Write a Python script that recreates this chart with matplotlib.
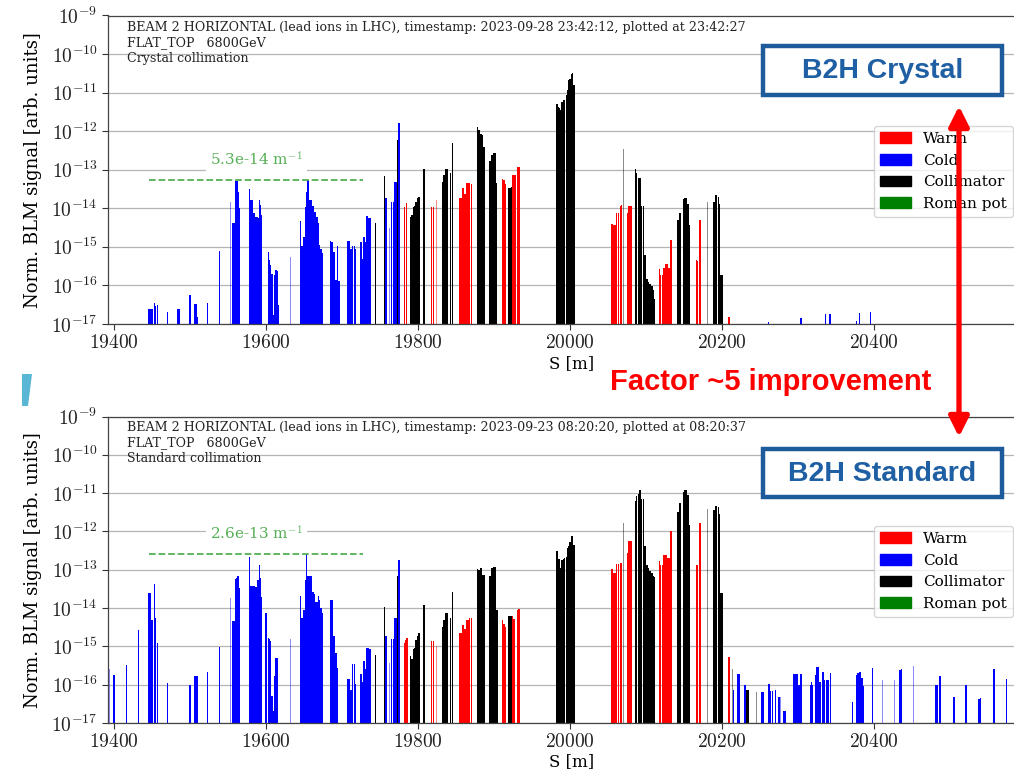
import numpy as np
import matplotlib
matplotlib.use("Agg")
import matplotlib.pyplot as plt
from matplotlib import font_manager
from matplotlib.patches import Rectangle, Polygon, FancyArrowPatch, ArrowStyle
from matplotlib.ticker import FixedLocator, NullLocator, FuncFormatter

# ---------------------------------------------------------------- data
S_TICKS = [19400, 19600, 19800, 20000, 20200, 20400]
LEGEND_LABELS = ["Warm", "Cold", "Collimator", "Roman pot"]

# Crystal collimation run (2023-09-28)
crystal_cold_s = [19446, 19448, 19450, 19453, 19454.5, 19457, 19470, 19484, 19486, 19500,
                  19506, 19507.5, 19509, 19523, 19539,
                  19556, 19558, 19560, 19561.5, 19563, 19565,
                  19578.5, 19580, 19582, 19584, 19586, 19588, 19589.5, 19591, 19592.5, 19594,
                  19603, 19604.5, 19606, 19608, 19610, 19611, 19613, 19614.5, 19615.5,
                  19645, 19646.5, 19648, 19650, 19652, 19653.5, 19655, 19656.5, 19658, 19660,
                  19662, 19663.5, 19665, 19667, 19669, 19670.5, 19672, 19674.5,
                  19685, 19687, 19688.5, 19690, 19692, 19694, 19696,
                  19708, 19710, 19712, 19714, 19716, 19717.5,
                  19724, 19725.5, 19727, 19729, 19731, 19733, 19735, 19736.5,
                  19758, 19765, 19767.5, 19769, 19771, 19775,
                  20261, 20303, 20304, 20336, 20341, 20343, 20377, 20381, 20395]
crystal_cold_sig = [2.4e-17, 2.4e-17, 2.4e-17, 3.6e-17, 2.9e-17, 3.2e-17, 2.1e-17, 2.4e-17, 2.4e-17, 5.6e-17,
                    3.4e-17, 3.4e-17, 1.55e-17, 3.6e-17, 7.8e-16,
                    4.1e-15, 4.1e-15, 5.0e-14, 5.0e-14, 2.7e-14, 1.0e-14,
                    3.1e-14, 1.6e-14, 1.6e-14, 7.4e-15, 6.0e-15, 6.0e-15, 5.5e-15, 1.6e-14, 1.2e-14, 6.6e-15,
                    7.5e-16, 4.6e-16, 3.4e-16, 2.0e-16, 1.7e-17, 1.9e-16, 2.5e-16, 2.4e-16, 3.1e-17,
                    4.6e-15, 1.05e-15, 1.05e-15, 1.8e-15, 1.1e-14, 2.7e-14, 5.3e-14, 1.5e-14, 1.6e-14, 1.6e-14,
                    1.15e-14, 8.1e-15, 8.1e-15, 6.0e-15, 4.1e-15, 1.15e-15, 8.6e-16, 7.0e-16,
                    1.45e-15, 1.35e-15, 7.5e-16, 7.5e-16, 1.4e-16, 1.05e-15, 1.3e-16,
                    1.4e-15, 1.4e-15, 8.6e-16, 1.05e-15, 1.05e-15, 8.6e-16,
                    1.35e-15, 1.35e-15, 4.8e-16, 1.8e-15, 1.35e-15, 6.3e-15, 5.5e-15, 5.5e-15,
                    1.9e-14, 1.5e-14, 1.5e-14, 4.9e-14, 4.9e-14, 1.6e-12,
                    1.15e-17, 1.45e-17, 1.45e-17, 1.8e-17, 1.8e-17, 1.8e-17, 1.2e-17, 1.9e-17, 2.1e-17]
crystal_cold_thin_s = [19553, 19575, 19632, 19762, 20379]
crystal_cold_thin_sig = [1.5e-14, 5.1e-15, 5.5e-16, 3.0e-15, 1.8e-17]

crystal_warm_s = [19782, 19785, 19818, 19820,
                  19855, 19857, 19859, 19860.5, 19863, 19864.5, 19866, 19868, 19870,
                  19911, 19913, 19915, 19924.5, 19926, 19927.5, 19931, 19932.5,
                  20055, 20057, 20059, 20061, 20063.5, 20066, 20068, 20076, 20077.5, 20080,
                  20117.5, 20119, 20121.5, 20123.5, 20126, 20127.5, 20130, 20131.5, 20133,
                  20166, 20167.5, 20170, 20171.5, 20209]
crystal_warm_sig = [1.1e-14, 1.4e-14, 1.1e-14, 1.1e-14,
                    1.8e-14, 1.8e-14, 3.3e-14, 2.4e-14, 2.4e-14, 4.4e-14, 4.6e-14, 4.4e-14, 4.2e-14,
                    5.6e-14, 5.4e-14, 4.2e-14, 7.2e-14, 7.2e-14, 7.2e-14, 1.15e-13, 1.15e-13,
                    3.9e-15, 3.8e-15, 3.8e-15, 7.4e-15, 7.6e-15, 1.15e-14, 1.2e-14, 7.4e-15, 1.15e-14, 1.15e-14,
                    2.6e-16, 1.9e-16, 1.9e-16, 2.8e-16, 3.7e-16, 3.7e-16, 2.9e-16, 2.9e-16, 1.5e-15,
                    4.6e-16, 4.4e-16, 5.1e-15, 5.1e-15, 1.5e-17]
crystal_warm_thin_s = [19824, 19934]
crystal_warm_thin_sig = [1.6e-14, 2.1e-13]

crystal_coll_s = [19744, 19756, 19773, 19790, 19792, 19794, 19795.5, 19797, 19799, 19801, 19808,
                  19832.5, 19834, 19836, 19838, 19843, 19845,
                  19878, 19880, 19881.5, 19883, 19885, 19887,
                  19894, 19895.5, 19897, 19899, 19901, 19902.5, 19919, 19921, 19923,
                  19982.5, 19984, 19986, 19988, 19989.5, 19991, 19993, 19995, 19996.5, 19998,
                  20000, 20002, 20003.5, 20005,
                  20086, 20087.5, 20090, 20092, 20094, 20096.5,
                  20098.5, 20101, 20103, 20105, 20107.5, 20109.5, 20111,
                  20142, 20144, 20145.5, 20149, 20151, 20153.5, 20155, 20157,
                  20189.5, 20191, 20193, 20195, 20196.5, 20198, 20200]
crystal_coll_sig = [4.1e-15, 6.9e-14, 5.9e-13, 6.0e-15, 6.6e-15, 1.1e-14, 1.15e-14, 1.5e-14, 1.8e-14, 2.0e-14, 1.07e-13,
                    4.9e-14, 7.2e-14, 1.07e-13, 1.07e-13, 8.0e-14, 5.0e-13,
                    1.25e-12, 1.07e-12, 6.9e-13, 8.4e-13, 7.9e-13, 3.9e-13,
                    1.7e-13, 1.66e-13, 2.4e-13, 2.75e-13, 2.75e-13, 4.4e-14, 3.3e-14, 3.3e-14, 3.6e-14,
                    5.0e-12, 4.3e-12, 3.9e-12, 3.6e-12, 5.8e-12, 6.6e-12, 6.6e-12, 8.5e-12, 1.2e-11, 2.1e-11,
                    2.3e-11, 3.1e-11, 3.2e-11, 1.55e-11,
                    1.07e-13, 8.0e-14, 6.0e-14, 6.0e-14, 1.15e-14, 1.15e-14,
                    6.1e-16, 1.5e-16, 1.25e-16, 1.1e-16, 9.6e-17, 7.6e-17, 4.5e-17,
                    5.1e-15, 7.6e-15, 7.6e-15, 1.7e-14, 1.9e-14, 1.9e-14, 1.3e-14, 3.8e-15,
                    1.5e-14, 2.2e-14, 2.2e-14, 2.0e-14, 1.3e-14, 1.9e-16, 1.9e-16]
crystal_coll_thin_s = [19839.5, 20070, 20181]
crystal_coll_thin_sig = [5.3e-13, 3.5e-13, 1.5e-14]

# Standard collimation run (2023-09-23)
standard_cold_s = [19400, 19416, 19432, 19446, 19448, 19450, 19453, 19454.5, 19457, 19470, 19500,
                   19505.5, 19507.5, 19509, 19523, 19539,
                   19556, 19558, 19560, 19561.5, 19563, 19565,
                   19578.5, 19580, 19582, 19584, 19586, 19588, 19589.5, 19591, 19592.5, 19594, 19600,
                   19603, 19604.5, 19606, 19608, 19610, 19611, 19613, 19614.5,
                   19645, 19646.5, 19648, 19650, 19652, 19653.5, 19655, 19656.5, 19658, 19660,
                   19662, 19663.5, 19665, 19667, 19669, 19670.5, 19672, 19674.5,
                   19685, 19687, 19688.5, 19690, 19692, 19694,
                   19708, 19710, 19712, 19714, 19716, 19717.5,
                   19724, 19725.5, 19727, 19729, 19731, 19733, 19735, 19736.5,
                   19758, 19765, 19767.5, 19769, 19771, 19775,
                   20215, 20221, 20223, 20230, 20252.5, 20254.5, 20262, 20264, 20266, 20270, 20275,
                   20281, 20283, 20294, 20296, 20297.5, 20299, 20301, 20303, 20304.5,
                   20316, 20317.5, 20319, 20323, 20325, 20327, 20329, 20332.5, 20334, 20338, 20340, 20343,
                   20371.5, 20377, 20379, 20381.5, 20384, 20386, 20398, 20434, 20436,
                   20481.5, 20483, 20487, 20505, 20521, 20538, 20540, 20558, 20574]
standard_cold_sig = [1.8e-16, 3.2e-16, 2.6e-15, 2.4e-14, 2.4e-14, 5.0e-15, 4.3e-14, 5.5e-15, 1.2e-15, 1.1e-16, 1.0e-16,
                     1.7e-16, 1.7e-16, 1.7e-16, 2.2e-16, 9.6e-16,
                     4.7e-15, 4.7e-15, 5.8e-14, 6.0e-14, 6.7e-14, 3.3e-14,
                     2.2e-13, 3.8e-14, 3.8e-14, 3.7e-14, 3.6e-14, 3.6e-14, 5.5e-14, 1.35e-13, 6.0e-14, 2.0e-14, 7.4e-15,
                     1.7e-15, 1.55e-15, 1.4e-15, 5.0e-17, 2.1e-17, 1.65e-16, 5.0e-16, 5.0e-16,
                     2.1e-14, 5.5e-15, 5.5e-15, 8.7e-15, 5.5e-14, 2.6e-13, 6.7e-14, 6.7e-14, 6.7e-14, 6.7e-14,
                     2.6e-14, 2.3e-14, 1.4e-14, 1.4e-14, 2.1e-14, 1.65e-14, 1.0e-14, 7.4e-15,
                     1.6e-14, 1.6e-14, 1.9e-15, 1.9e-15, 6.7e-16, 2.7e-16,
                     1.4e-16, 1.4e-16, 7.4e-17, 3.5e-16, 3.5e-16, 1.06e-16,
                     1.9e-16, 1.9e-16, 1.2e-16, 4.1e-16, 2.6e-16, 9.1e-16, 9.1e-16, 8.6e-16,
                     1.9e-15, 1.55e-15, 1.55e-15, 5.5e-15, 5.5e-15, 1.8e-13,
                     7.4e-17, 1.9e-16, 1.9e-16, 9.8e-17, 6.3e-17, 6.3e-17, 1.04e-16, 7.0e-17, 7.0e-17, 7.4e-17, 4.7e-17,
                     2.1e-17, 2.1e-17, 1.9e-16, 1.9e-16, 1.9e-16, 1.9e-16, 1.0e-16, 1.9e-16, 1.9e-16,
                     9.6e-17, 1.2e-16, 1.0e-16, 1.8e-16, 2.9e-16, 2.9e-16, 1.2e-16, 2.1e-16, 1.35e-16, 1.35e-16, 1.35e-16, 2.0e-16,
                     3.5e-17, 1.8e-16, 2.0e-16, 2.2e-16, 1.5e-16, 9.1e-17, 2.7e-16, 2.4e-16, 2.5e-16,
                     1.0e-16, 1.0e-16, 1.7e-16, 4.7e-17, 1.0e-16, 4.3e-17, 4.5e-17, 2.6e-16, 1.4e-16]
standard_cold_thin_s = [19394, 19553, 19575, 19632, 19762, 20277, 20411, 20427, 20452]
standard_cold_thin_sig = [2.5e-16, 1.8e-14, 4.7e-14, 1.55e-15, 3.7e-16, 4.7e-17, 1.3e-16, 1.3e-16, 3.0e-16]

standard_warm_s = [19782, 19783.5, 19785.5, 19818, 19820,
                   19855, 19857, 19859, 19860.5, 19863, 19864.5, 19866, 19868, 19870,
                   19911, 19913, 19915, 19924.5, 19926, 19931, 19932.5,
                   20055, 20057, 20059, 20061, 20063.5, 20066, 20068, 20076, 20077.5, 20080,
                   20117.5, 20119, 20121.5, 20123.5, 20126, 20127.5, 20130, 20131.5, 20133,
                   20166, 20167.5, 20170, 20171.5, 20209]
standard_warm_sig = [1.2e-15, 1.5e-15, 1.65e-15, 1.35e-15, 1.35e-15,
                     2.2e-15, 2.2e-15, 3.7e-15, 2.8e-15, 2.8e-15, 5.0e-15, 5.0e-15, 5.5e-15, 5.5e-15,
                     5.0e-15, 3.9e-15, 3.3e-15, 6.1e-15, 5.2e-15, 9.1e-15, 9.4e-15,
                     1.04e-13, 8.2e-14, 8.2e-14, 1.43e-13, 1.43e-13, 1.5e-13, 1.5e-13, 2.8e-13, 5.5e-13, 5.5e-13,
                     1.65e-13, 1.3e-13, 1.3e-13, 2.5e-13, 2.5e-13, 2.0e-13, 2.0e-13, 2.0e-13, 1.0e-12,
                     1.35e-13, 1.35e-13, 1.65e-12, 1.65e-12, 5.2e-16]
standard_warm_thin_s = [19824, 19927.5, 19934, 20205]
standard_warm_thin_sig = [1.0e-15, 5.0e-15, 1.6e-14, 1.75e-15]

standard_coll_s = [19744, 19756, 19773, 19790, 19792, 19794, 19795.5, 19797, 19799, 19801, 19808,
                   19832.5, 19834, 19836, 19838, 19843, 19845,
                   19878, 19880, 19881.5, 19883, 19885, 19887,
                   19894, 19895.5, 19897, 19899, 19901, 19902.5, 19904.5, 19919, 19921, 19923,
                   19982.5, 19984, 19986, 19988, 19989.5, 19991, 19993, 19995, 19996.5, 19998,
                   20000, 20002, 20003.5, 20005,
                   20086, 20087.5, 20090, 20092, 20094, 20096.5,
                   20098.5, 20101, 20103, 20105, 20107.5, 20109.5, 20111,
                   20142, 20144, 20145.5, 20149, 20151, 20153.5, 20155, 20157,
                   20189.5, 20191, 20193, 20195, 20196.5, 20198, 20200, 20232.5, 20234.5]
standard_coll_sig = [6.0e-16, 1.05e-14, 6.7e-14, 5.7e-16, 4.7e-16, 8.5e-16, 9.1e-16, 1.5e-15, 1.9e-15, 2.2e-15, 1.2e-14,
                     3.3e-15, 5.0e-15, 7.4e-15, 7.4e-15, 5.5e-15, 2.7e-14,
                     1.04e-13, 9.6e-14, 7.4e-14, 1.1e-13, 7.4e-14, 7.4e-14,
                     6.7e-14, 6.7e-14, 1.1e-13, 1.15e-13, 1.15e-13, 9.1e-15, 9.1e-15, 6.1e-15, 6.1e-15, 6.1e-15,
                     3.0e-13, 1.9e-13, 1.9e-13, 1.1e-13, 1.85e-13, 1.9e-13, 2.0e-13, 2.2e-13, 3.7e-13, 4.1e-13,
                     5.2e-13, 7.4e-13, 7.4e-13, 4.5e-13,
                     6.4e-12, 8.2e-12, 9.6e-12, 1.22e-11, 7.0e-12, 7.0e-12,
                     4.1e-13, 1.35e-13, 1.1e-13, 9.1e-14, 8.2e-14, 6.7e-14, 6.4e-14,
                     3.3e-12, 5.5e-12, 5.5e-12, 1.04e-11, 1.22e-11, 1.22e-11, 9.1e-12, 1.5e-12,
                     3.7e-12, 4.7e-12, 4.7e-12, 4.3e-12, 2.9e-12, 2.5e-14, 2.5e-14, 7.4e-17, 7.4e-17]
standard_coll_thin_s = [19839.5, 20070, 20181, 20213.5, 20245.5]
standard_coll_thin_sig = [3.5e-14, 1.65e-12, 3.8e-12, 2.5e-16, 6.3e-17]

# reference loss level (per metre) and the cold-region span it is shown over
crystal_level = 5.3e-14
standard_level = 2.6e-13
level_span = (19446.5, 19728)

# ---------------------------------------------------------------- style
plt.rcParams["font.family"] = ["DejaVu Serif"]
plt.rcParams["mathtext.fontset"] = "cm"

avail = {f.name for f in font_manager.fontManager.ttflist}
SANS = "Liberation Sans" if "Liberation Sans" in avail else "DejaVu Sans"

W_PX, H_PX = 1014, 769
fig = plt.figure(figsize=(W_PX / 100, H_PX / 100), dpi=100)


def fx(x):
    return x / W_PX


def fy(y):
    return 1 - y / H_PX


XMIN, XMAX = 19392, 20600
PX_PER_M = 0.76
ax_w = (XMAX - XMIN) * PX_PER_M / W_PX
ax_top = fig.add_axes([fx(108), fy(324), ax_w, (324 - 15.5) / H_PX])
ax_bot = fig.add_axes([fx(108), fy(723), ax_w, (723 - 416.5) / H_PX])

CHANNEL_COLORS = {"warm": "red", "cold": "blue", "coll": "black"}


def draw_bars(ax, groups):
    for kind, (s, sig, s_thin, sig_thin) in groups.items():
        col = CHANNEL_COLORS[kind]
        ax.bar(s, np.asarray(sig) - 1e-18, bottom=1e-18, width=1.9, color=col,
               linewidth=0, zorder=2)
        ax.bar(s_thin, np.asarray(sig_thin) - 1e-18, bottom=1e-18, width=0.8, color=col,
               alpha=0.45, linewidth=0, zorder=2)


def style_axis(ax, label_y):
    ax.set_yscale("log")
    ax.set_xlim(XMIN, XMAX)
    ax.set_ylim(1e-17, 1e-9)
    ax.yaxis.set_major_locator(FixedLocator([10.0 ** e for e in range(-17, -8)]))
    ax.yaxis.set_minor_locator(NullLocator())
    ax.yaxis.set_major_formatter(FuncFormatter(lambda v, p: r"$10^{%d}$" % round(np.log10(v))))
    ax.xaxis.set_major_locator(FixedLocator(S_TICKS))
    ax.xaxis.set_major_formatter(FuncFormatter(lambda v, p: r"$%d$" % v))
    ax.tick_params(labelsize=14, length=4, width=0.8, colors="#333333", labelcolor="#222222")
    ax.grid(axis="y", color="#b4b4b4", lw=0.9)
    ax.set_axisbelow(True)
    for sp in ax.spines.values():
        sp.set_color("#444444")
        sp.set_linewidth(0.9)
    ax.set_ylabel("Norm. BLM signal [arb. units]", fontsize=13)
    ax.yaxis.set_label_coords(-0.072, 0.5)
    ax.set_xlabel("S [m]", fontsize=12)
    ax.xaxis.set_label_coords((572 - 108) / (ax_w * W_PX), label_y)


def level_marker(ax, level, y_text):
    ax.plot(level_span, [level, level], ls="--", lw=1.3, color="#55b055", zorder=3)
    ax.text(np.mean(level_span), y_text, "%.1e m$^{-1}$" % level, color="#55b055",
            fontsize=11, ha="center", va="center", zorder=4,
            bbox=dict(facecolor="white", edgecolor="none", pad=3))


def legend(ax, y_px):
    handles = [Rectangle((0, 0), 1, 1, color=c) for c in ["red", "blue", "black", "green"]]
    ax.legend(handles, LEGEND_LABELS, loc="upper right",
              bbox_to_anchor=(fx(1013), fy(y_px)), bbox_transform=fig.transFigure,
              fontsize=11, borderaxespad=0, labelspacing=0.5, handlelength=2.0,
              framealpha=0.8, edgecolor="#cccccc")


style_axis(ax_top, -0.10)
style_axis(ax_bot, -0.098)

draw_bars(ax_top, {
    "warm": (crystal_warm_s, crystal_warm_sig, crystal_warm_thin_s, crystal_warm_thin_sig),
    "cold": (crystal_cold_s, crystal_cold_sig, crystal_cold_thin_s, crystal_cold_thin_sig),
    "coll": (crystal_coll_s, crystal_coll_sig, crystal_coll_thin_s, crystal_coll_thin_sig),
})
draw_bars(ax_bot, {
    "warm": (standard_warm_s, standard_warm_sig, standard_warm_thin_s, standard_warm_thin_sig),
    "cold": (standard_cold_s, standard_cold_sig, standard_cold_thin_s, standard_cold_thin_sig),
    "coll": (standard_coll_s, standard_coll_sig, standard_coll_thin_s, standard_coll_thin_sig),
})

level_marker(ax_top, crystal_level, 1.85e-13)
level_marker(ax_bot, standard_level, 9.0e-13)
legend(ax_top, 126)
legend(ax_bot, 526)

header_top = ("BEAM 2 HORIZONTAL (lead ions in LHC), timestamp: 2023-09-28 23:42:12, plotted at 23:42:27\n"
              "FLAT_TOP   6800GeV\nCrystal collimation")
header_bot = ("BEAM 2 HORIZONTAL (lead ions in LHC), timestamp: 2023-09-23 08:20:20, plotted at 08:20:37\n"
              "FLAT_TOP   6800GeV\nStandard collimation")
fig.text(fx(127), fy(21), header_top, fontsize=9.1, va="top", ha="left", linespacing=1.25,
         color="#222222")
fig.text(fx(127), fy(421), header_bot, fontsize=9.1, va="top", ha="left", linespacing=1.25,
         color="#222222")

# ---------------------------------------------------------------- annotations
BOX_BLUE = "#1d5b9b"
for (y0, y1, label) in [(46, 94.5, "B2H Crystal"), (449, 497.5, "B2H Standard")]:
    fig.add_artist(Rectangle((fx(763), fy(y1)), fx(1002) - fx(763), fy(y0) - fy(y1),
                             transform=fig.transFigure, facecolor="white",
                             edgecolor=BOX_BLUE, lw=3.2, zorder=5))
    fig.text(fx(882.5), fy((y0 + y1) / 2 + 1), label, fontsize=20.5, fontweight="bold",
             family=SANS, color="#1f5fa3", ha="center", va="center", zorder=6)

arrow = FancyArrowPatch((fx(959), fy(437)), (fx(959), fy(106)), transform=fig.transFigure,
                        arrowstyle=ArrowStyle("<|-|>", head_length=1.0, head_width=0.5),
                        mutation_scale=12, lw=3.8, color="red", shrinkA=0, shrinkB=0, zorder=7)
fig.add_artist(arrow)
fig.text(fx(771), fy(382), "Factor ~5 improvement", fontsize=21, fontweight="bold",
         family=SANS, color="red", ha="center", va="center", zorder=7)

fig.add_artist(Polygon([(fx(22), fy(374)), (fx(32), fy(374)), (fx(28), fy(406)), (fx(22), fy(406))],
                       closed=True, transform=fig.transFigure, facecolor="#5ab6d5",
                       edgecolor="none", zorder=5))

fig.savefig("out.png", dpi=100)
